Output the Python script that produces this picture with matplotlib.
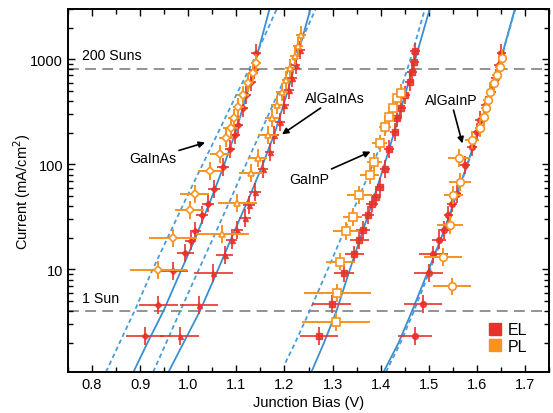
import matplotlib
matplotlib.use("Agg")
import matplotlib.pyplot as plt
import numpy as np
from matplotlib.ticker import FixedLocator, LogLocator, NullFormatter, MultipleLocator
from matplotlib.lines import Line2D

plt.rcParams['font.family'] = ['Liberation Sans', 'DejaVu Sans']

# measured points: bias (V), current (mA/cm2), bias uncertainty (V)
gainas_el_v = [0.910, 0.938, 0.968, 0.994, 1.005, 1.015, 1.029, 1.041, 1.054, 1.072, 1.087, 1.097, 1.104, 1.114, 1.121, 1.130, 1.137, 1.141]
gainas_el_j = [2.35, 4.6, 9.6, 14.3, 18.5, 23.2, 32.7, 42.4, 58, 95, 141, 190, 236, 341, 457, 612, 791, 1140]
gainas_el_dv = [0.040, 0.040, 0.032, 0.018, 0.012, 0.012, 0.012, 0.012, 0.012, 0.012, 0.010, 0.010, 0.010, 0.010, 0.010, 0.010, 0.010, 0.010]

gainas_pl_v = [0.938, 0.969, 1.003, 1.013, 1.046, 1.066, 1.078, 1.088, 1.095, 1.104, 1.114, 1.125, 1.134, 1.141]
gainas_pl_j = [9.8, 20, 37, 52, 87, 126, 177, 220, 274, 354, 457, 590, 735, 916]
gainas_pl_dv = [0.060, 0.050, 0.030, 0.030, 0.025, 0.020, 0.015, 0.015, 0.012, 0.012, 0.012, 0.010, 0.010, 0.010]

algainas_el_v = [0.982, 1.022, 1.052, 1.076, 1.090, 1.101, 1.118, 1.126, 1.139, 1.155, 1.169, 1.179, 1.191, 1.200, 1.209, 1.216, 1.223, 1.232]
algainas_el_j = [2.35, 4.6, 9.3, 13.8, 18.9, 23.6, 31.1, 40.7, 55, 91, 132, 190, 255, 366, 509, 659, 883, 1227]
algainas_el_dv = [0.040, 0.040, 0.040, 0.018, 0.012, 0.012, 0.012, 0.012, 0.012, 0.010, 0.010, 0.010, 0.010, 0.010, 0.010, 0.010, 0.010, 0.010]

algainas_pl_v = [1.071, 1.102, 1.130, 1.144, 1.165, 1.174, 1.184, 1.195, 1.204, 1.212, 1.221, 1.228, 1.235]
algainas_pl_j = [21.9, 43, 82, 114, 190, 278, 366, 492, 636, 820, 1062, 1322, 1700]
algainas_pl_dv = [0.055, 0.040, 0.025, 0.020, 0.020, 0.015, 0.012, 0.012, 0.010, 0.010, 0.010, 0.010, 0.010]

gainp_el_v = [1.272, 1.298, 1.324, 1.345, 1.356, 1.363, 1.374, 1.382, 1.391, 1.398, 1.409, 1.418, 1.429, 1.435, 1.443, 1.450, 1.460, 1.465, 1.470, 1.472]
gainp_el_j = [2.35, 4.7, 9.3, 13.9, 18.9, 23.6, 32.7, 42.4, 49, 61, 91, 141, 204, 274, 341, 457, 612, 762, 949, 1183]
gainp_el_dv = [0.040, 0.040, 0.020, 0.020, 0.020, 0.015, 0.012, 0.012, 0.010, 0.010, 0.010, 0.010, 0.010, 0.010, 0.010, 0.010, 0.010, 0.010, 0.010, 0.010]

gainp_pl_v = [1.307, 1.310, 1.316, 1.328, 1.342, 1.356, 1.377, 1.387, 1.398, 1.409, 1.418, 1.426, 1.435, 1.443]
gainp_pl_j = [3.15, 6.0, 11.9, 23.2, 31.6, 51, 79, 106, 158, 228, 284, 341, 425, 474]
gainp_pl_dv = [0.070, 0.070, 0.030, 0.028, 0.020, 0.025, 0.020, 0.015, 0.015, 0.012, 0.012, 0.010, 0.010, 0.010]

algainp_el_v = [1.472, 1.488, 1.500, 1.509, 1.521, 1.532, 1.541, 1.548, 1.558, 1.576, 1.590, 1.600, 1.607, 1.618, 1.630, 1.639, 1.646, 1.651]
algainp_el_j = [2.35, 4.7, 9.3, 13.9, 18.9, 23.8, 32.7, 42.4, 52, 98, 147, 204, 264, 366, 492, 659, 883, 1140]
algainp_el_dv = [0.035, 0.040, 0.030, 0.030, 0.015, 0.012, 0.010, 0.010, 0.010, 0.010, 0.010, 0.010, 0.010, 0.010, 0.010, 0.010, 0.010, 0.010]

algainp_pl_v = [1.548, 1.530, 1.544, 1.551, 1.565, 1.563, 1.590, 1.607, 1.614, 1.618, 1.623, 1.628, 1.635, 1.642, 1.648, 1.653]
algainp_pl_j = [6.9, 13.1, 26.3, 51, 68, 115, 170, 223, 284, 341, 409, 492, 590, 708, 851, 1023]
algainp_pl_dv = [0.040, 0.040, 0.027, 0.020, 0.022, 0.022, 0.015, 0.010, 0.010, 0.010, 0.010, 0.010, 0.010, 0.010, 0.010, 0.010]

# model curves, bias at fixed current levels
curve_j = [1.06, 2, 4, 10, 20, 50, 100, 200, 500, 1000, 3000]
gainas_fit = [0.886, 0.915, 0.948, 0.986, 1.015, 1.050, 1.075, 1.098, 1.124, 1.141, 1.169]
gainas_fit2 = [0.829, 0.857, 0.888, 0.926, 0.957, 0.998, 1.030, 1.062, 1.104, 1.137, 1.184]
algainas_fit = [0.959, 0.990, 1.024, 1.062, 1.090, 1.128, 1.155, 1.180, 1.207, 1.225, 1.254]
algainas_fit2 = [0.927, 0.954, 0.983, 1.022, 1.052, 1.091, 1.120, 1.150, 1.189, 1.218, 1.265]
gainp_fit = [1.256, 1.282, 1.308, 1.336, 1.358, 1.387, 1.408, 1.428, 1.453, 1.472, 1.502]
gainp_fit2_j = [1.3, 2, 4, 10, 20, 50, 100, 200, 500, 1000, 3000]
gainp_fit2 = [1.202, 1.222, 1.252, 1.290, 1.318, 1.356, 1.384, 1.410, 1.441, 1.462, 1.492]
algainp_fit = [1.406, 1.437, 1.465, 1.500, 1.526, 1.557, 1.580, 1.602, 1.630, 1.650, 1.679]
algainp_fit2 = [1.411, 1.441, 1.469, 1.503, 1.528, 1.558, 1.581, 1.603, 1.630, 1.650, 1.680]

one_sun = 4.07
suns_200 = 815

RED = '#e8312a'
ORANGE = '#f7931e'
BLUE = '#3b8fd0'
BLUE2 = '#4a9bda'

fig = plt.figure(figsize=(5.53, 4.14), dpi=100)
ax = fig.add_axes([68 / 553, 41 / 414, 481 / 553, 363 / 414])

ax.axhline(suns_200, color='#8a8a8a', lw=1.3, dashes=(6, 3.5), zorder=1)
ax.axhline(one_sun, color='#8a8a8a', lw=1.3, dashes=(6, 3.5), zorder=1)

for v in [gainas_fit, algainas_fit, gainp_fit, algainp_fit]:
    ax.plot(v, curve_j, color=BLUE, lw=1.3, zorder=2)
for v, j in [(gainas_fit2, curve_j), (algainas_fit2, curve_j), (gainp_fit2, gainp_fit2_j), (algainp_fit2, curve_j)]:
    ax.plot(v, j, color=BLUE2, lw=1.3, dashes=(2.5, 1.8), zorder=2)

yfac = 10 ** 0.085


def points(v, j, dv, marker, ms, filled):
    j = np.array(j)
    yerr = [j - j / yfac, j * yfac - j]
    if filled:
        ax.errorbar(v, j, xerr=dv, yerr=yerr, fmt=marker, ms=ms, mfc=RED, mec=RED,
                    ecolor=RED, elinewidth=1.4, capsize=0, alpha=0.85, zorder=3)
    else:
        ax.errorbar(v, j, xerr=dv, yerr=yerr, fmt=marker, ms=ms, mfc='white', mec=ORANGE,
                    mew=1.2, ecolor=ORANGE, elinewidth=1.4, capsize=0, zorder=4)


points(gainas_el_v, gainas_el_j, gainas_el_dv, 'D', 3.2, True)
points(algainas_el_v, algainas_el_j, algainas_el_dv, '^', 3.6, True)
points(gainp_el_v, gainp_el_j, gainp_el_dv, 's', 4.2, True)
points(algainp_el_v, algainp_el_j, algainp_el_dv, 'o', 4.2, True)

points(gainas_pl_v, gainas_pl_j, gainas_pl_dv, 'D', 4.0, False)
points(algainas_pl_v, algainas_pl_j, algainas_pl_dv, '^', 4.5, False)
points(gainp_pl_v, gainp_pl_j, gainp_pl_dv, 's', 5.2, False)
points(algainp_pl_v, algainp_pl_j, algainp_pl_dv, 'o', 5.5, False)

ax.set_yscale('log')
ax.set_xlim(0.75, 1.75)
ax.set_ylim(1.06, 3000)

ax.xaxis.set_major_locator(FixedLocator([0.8, 0.9, 1.0, 1.1, 1.2, 1.3, 1.4, 1.5, 1.6, 1.7]))
ax.xaxis.set_minor_locator(MultipleLocator(0.05))
ax.yaxis.set_major_locator(FixedLocator([10, 100, 1000]))
ax.yaxis.set_minor_locator(LogLocator(base=10, subs=np.arange(2, 10)))
ax.yaxis.set_minor_formatter(NullFormatter())
ax.set_yticklabels(['10', '100', '1000'])
ax.set_xticklabels(['0.8', '0.9', '1.0', '1.1', '1.2', '1.3', '1.4', '1.5', '1.6', '1.7'])

ax.tick_params(which='both', direction='in', top=True, right=True, labelsize=10.5, width=1)
ax.tick_params(which='major', length=5)
ax.tick_params(which='minor', length=3.5)
for s in ax.spines.values():
    s.set_linewidth(1.4)

ax.set_xlabel('Junction Bias (V)', fontsize=10.5, labelpad=3)
ax.set_ylabel('Current (mA/cm$^2$)', fontsize=10.5, labelpad=-2)

ax.text(0.78, 1090, '200 Suns', fontsize=10.2, va='center')
ax.text(0.78, 5.3, '1 Sun', fontsize=10.2, va='center')

arrow = dict(arrowstyle='-|>', color='black', lw=1.2, mutation_scale=9, shrinkA=0, shrinkB=0)
ax.annotate('GaInAs', xy=(1.035, 161), xytext=(0.926, 114), fontsize=10.2, ha='center', va='center',
            arrowprops=arrow)
ax.annotate('AlGaInAs', xy=(1.195, 193), xytext=(1.305, 425), fontsize=10.2, ha='center', va='center',
            arrowprops=arrow)
ax.annotate('GaInP', xy=(1.379, 132), xytext=(1.252, 73), fontsize=10.2, ha='center', va='center',
            arrowprops=arrow)
ax.annotate('AlGaInP', xy=(1.570, 158), xytext=(1.546, 406), fontsize=10.2, ha='center', va='center',
            arrowprops=arrow)

handles = [Line2D([], [], ls='none', marker='s', ms=8.7, mfc=RED, mec=RED),
           Line2D([], [], ls='none', marker='s', ms=8.7, mfc=ORANGE, mec=ORANGE)]
ax.legend(handles, ['EL', 'PL'], loc='lower left', frameon=False, fontsize=11.5,
          handlelength=0.8, handletextpad=0.4, labelspacing=0.1, borderpad=0,
          borderaxespad=0, bbox_to_anchor=(0.874, 0.05))

fig.savefig('out.png', dpi=100)
